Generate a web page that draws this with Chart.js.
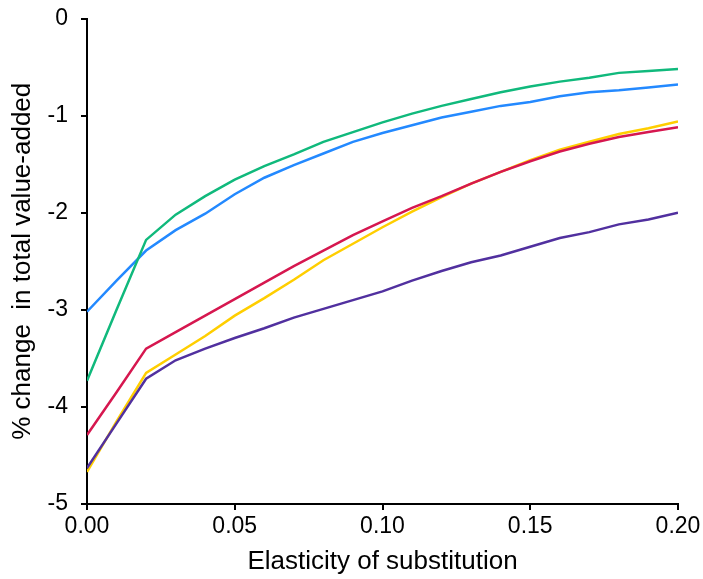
<!DOCTYPE html>
<html>
<head>
<meta charset="utf-8">
<script src="https://cdn.jsdelivr.net/npm/chart.js@4/dist/chart.umd.min.js"></script>
<style>
html,body{margin:0;padding:0;background:#fff;}
#wrap{width:703px;height:579px;}
</style>
</head>
<body>
<div id="wrap"><canvas id="c" width="703" height="579"></canvas></div>
<script>
const xValues = [0, 0.01, 0.02, 0.03, 0.04, 0.05, 0.06, 0.07, 0.08, 0.09, 0.10, 0.11, 0.12, 0.13, 0.14, 0.15, 0.16, 0.17, 0.18, 0.19, 0.20];
const greenSeries  = [-3.73, -3.00, -2.28, -2.02, -1.83, -1.66, -1.52, -1.40, -1.27, -1.17, -1.07, -0.98, -0.90, -0.83, -0.76, -0.70, -0.65, -0.61, -0.56, -0.54, -0.52];
const blueSeries   = [-3.02, -2.70, -2.39, -2.18, -2.01, -1.81, -1.64, -1.51, -1.39, -1.27, -1.18, -1.10, -1.02, -0.96, -0.90, -0.86, -0.80, -0.76, -0.74, -0.71, -0.68];
const redSeries    = [-4.29, -3.85, -3.40, -3.23, -3.06, -2.89, -2.72, -2.55, -2.39, -2.23, -2.09, -1.95, -1.83, -1.70, -1.58, -1.47, -1.37, -1.29, -1.22, -1.17, -1.12];
const yellowSeries = [-4.67, -4.15, -3.65, -3.46, -3.27, -3.06, -2.88, -2.69, -2.49, -2.32, -2.15, -1.99, -1.84, -1.70, -1.58, -1.46, -1.35, -1.27, -1.19, -1.13, -1.06];
const purpleSeries = [-4.63, -4.17, -3.71, -3.52, -3.40, -3.29, -3.19, -3.08, -2.99, -2.90, -2.81, -2.70, -2.60, -2.51, -2.44, -2.35, -2.26, -2.20, -2.12, -2.07, -2.00];
const xTitle = 'Elasticity of substitution';
const yTitle = '% change  in total value-added';

function pts(arr){ return xValues.map((x,i)=>({x:x,y:arr[i]})); }
function ds(arr,color,order){
  return {data:pts(arr),borderColor:color,backgroundColor:color,borderWidth:2.5,pointRadius:0,tension:0,fill:false,order:order};
}
const FAM = '"Liberation Sans", Arial, sans-serif';
const TICKFONT = {family:FAM, size:23};
const TITLEFONT = {family:FAM, size:26};

new Chart(document.getElementById('c'),{
  type:'line',
  data:{datasets:[
    ds(redSeries,'#D6174F',1),
    ds(greenSeries,'#10B97C',2),
    ds(blueSeries,'#2389FF',3),
    ds(purpleSeries,'#51309F',4),
    ds(yellowSeries,'#FFCE00',5)
  ]},
  options:{
    responsive:false,
    animation:false,
    layout:{padding:{top:18.5,right:25,left:0,bottom:0}},
    plugins:{legend:{display:false},tooltip:{enabled:false}},
    scales:{
      x:{
        type:'linear',min:0,max:0.2,
        afterFit:(s)=>{s.height=75;s.paddingLeft=0;s.paddingRight=0;},
        border:{display:true,color:'#000',width:2},
        grid:{display:true,drawOnChartArea:false,drawTicks:true,tickLength:6,color:'#000',lineWidth:2},
        ticks:{stepSize:0.05,color:'#000',font:TICKFONT,padding:3,maxRotation:0,callback:(v)=>Number(v).toFixed(2)},
        title:{display:true,text:xTitle,color:'#000',font:TITLEFONT,padding:{top:0,bottom:1.5}}
      },
      y:{
        min:-5,max:0,
        afterFit:(s)=>{s.width=87;s.paddingTop=0;s.paddingBottom=0;},
        border:{display:true,color:'#000',width:2},
        grid:{display:true,drawOnChartArea:false,drawTicks:true,tickLength:6,color:'#000',lineWidth:2},
        ticks:{stepSize:1,color:'#000',font:TICKFONT,padding:13,callback:(v)=>String(v)},
        title:{display:true,text:yTitle,color:'#000',font:TITLEFONT,padding:{top:7.4,bottom:0}}
      }
    }
  }
});
</script>
</body>
</html>
